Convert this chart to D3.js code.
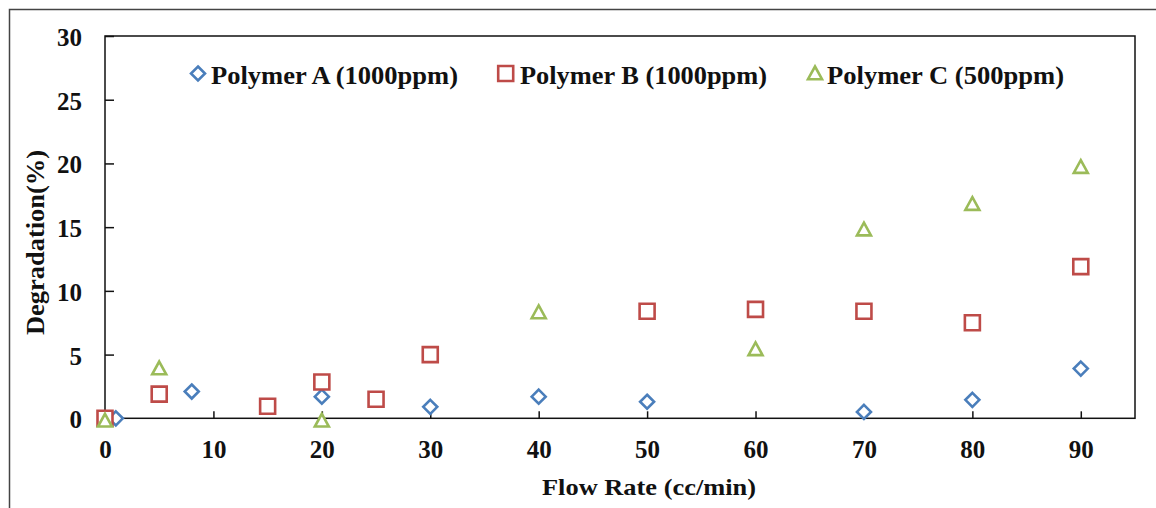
<!DOCTYPE html>
<html>
<head>
<meta charset="utf-8">
<script src="https://cdn.jsdelivr.net/npm/d3@7"></script>
<style>
  html, body { margin: 0; padding: 0; background: #fff; }
  svg { display: block; }
  text { font-family: "Liberation Serif", "Times New Roman", serif; font-weight: bold; fill: #111; }
</style>
</head>
<body>
<svg id="chart" width="1156" height="508"></svg>
<script>
// ---- data ----
const seriesNames = ["Polymer A (1000ppm)", "Polymer B (1000ppm)", "Polymer C (500ppm)"];
const seriesColors = ["#4a7ebb", "#be4b48", "#9bbb59"];
const seriesShapes = ["diamond", "square", "triangle"];

const flowA = [1, 8, 20, 30, 40, 50, 70, 80, 90];
const degA  = [0, 2.1, 1.7, 0.9, 1.7, 1.3, 0.5, 1.45, 3.9];

const flowB = [0, 5, 15, 20, 25, 30, 50, 60, 70, 80, 90];
const degB  = [0, 1.9, 0.95, 2.85, 1.5, 5.0, 8.4, 8.55, 8.4, 7.5, 11.9];

const flowC = [0, 5, 20, 40, 60, 70, 80, 90];
const degC  = [0, 4.1, 0, 8.5, 5.6, 15, 17, 19.9];

const xTicks = [0, 10, 20, 30, 40, 50, 60, 70, 80, 90];
const yTicks = [0, 5, 10, 15, 20, 25, 30];
const xTitle = "Flow Rate (cc/min)";
const yTitle = "Degradation(%)";

// ---- layout ----
const svg = d3.select("#chart");
const pLeft = 105, pRight = 1135, pTop = 36, pBottom = 418.3;
const x = d3.scaleLinear().domain([0, 95]).range([pLeft, pRight]);
const y = d3.scaleLinear().domain([0, 30]).range([pBottom, pTop]);

// outer frame
svg.append("rect")
  .attr("x", 9.5).attr("y", 9.5).attr("width", 1170).attr("height", 540)
  .attr("fill", "none").attr("stroke", "#444").attr("stroke-width", 1.5);

// plot box
svg.append("rect")
  .attr("x", pLeft).attr("y", pTop).attr("width", pRight - pLeft).attr("height", pBottom - pTop)
  .attr("fill", "none").attr("stroke", "#111").attr("stroke-width", 1.5);

// axes
const xAxis = svg.append("g").attr("transform", `translate(0,${pBottom})`)
  .call(d3.axisBottom(x).tickValues(xTicks).tickSize(-7).tickPadding(22).tickFormat(d3.format("d")));
const yAxis = svg.append("g").attr("transform", `translate(${pLeft},0)`)
  .call(d3.axisLeft(y).tickValues(yTicks).tickSize(-9).tickPadding(23).tickFormat(d3.format("d")));
[xAxis, yAxis].forEach(g => {
  g.select(".domain").remove();
  g.selectAll(".tick line").attr("stroke", "#111").attr("stroke-width", 1.5);
  g.selectAll(".tick text").style("font-size", "25px").attr("fill", "#111")
    .style("font-family", "'Liberation Serif', 'Times New Roman', serif").style("font-weight", "bold");
});
yAxis.selectAll(".tick text").attr("dy", "0.38em");

// axis titles
svg.append("text")
  .attr("x", 649).attr("y", 495).attr("text-anchor", "middle")
  .style("font-size", "24px")
  .attr("textLength", 214).attr("lengthAdjust", "spacingAndGlyphs")
  .text(xTitle);
svg.append("text")
  .attr("transform", "translate(43.5,242.5) rotate(-90)")
  .attr("text-anchor", "middle")
  .style("font-size", "25px")
  .attr("textLength", 185).attr("lengthAdjust", "spacingAndGlyphs")
  .text(yTitle);

// marker shapes
function markerPath(shape) {
  if (shape === "diamond") return "M0,-7 L7,0 L0,7 L-7,0 Z";
  if (shape === "square") return "M-7.5,-7.5 L7.5,-7.5 L7.5,7.5 L-7.5,7.5 Z";
  return "M0,-4.5 L7,8.2 L-7,8.2 Z";
}

const series = [
  { xs: flowA, ys: degA },
  { xs: flowB, ys: degB },
  { xs: flowC, ys: degC }
];

series.forEach((s, i) => {
  const pts = s.xs.map((v, j) => [v, s.ys[j]]);
  svg.append("g").selectAll("path").data(pts).join("path")
    .attr("transform", d => `translate(${x(d[0])},${y(d[1])})`)
    .attr("d", markerPath(seriesShapes[i]))
    .attr("fill", "#fff")
    .attr("stroke", seriesColors[i])
    .attr("stroke-width", 2.6)
    .attr("stroke-linejoin", "miter");
});

// legend
const legendItems = [
  { mx: 198, tx: 211, w: 247 },
  { mx: 505.7, tx: 520, w: 247 },
  { mx: 815, tx: 827, w: 237 }
];
legendItems.forEach((L, i) => {
  svg.append("path")
    .attr("transform", `translate(${L.mx},${i === 2 ? 71 : 73.5})`)
    .attr("d", markerPath(seriesShapes[i]))
    .attr("fill", "#fff")
    .attr("stroke", seriesColors[i])
    .attr("stroke-width", 2.6);
  svg.append("text")
    .attr("x", L.tx).attr("y", 84)
    .style("font-size", "25px")
    .attr("textLength", L.w).attr("lengthAdjust", "spacingAndGlyphs")
    .text(seriesNames[i]);
});
</script>
</body>
</html>
